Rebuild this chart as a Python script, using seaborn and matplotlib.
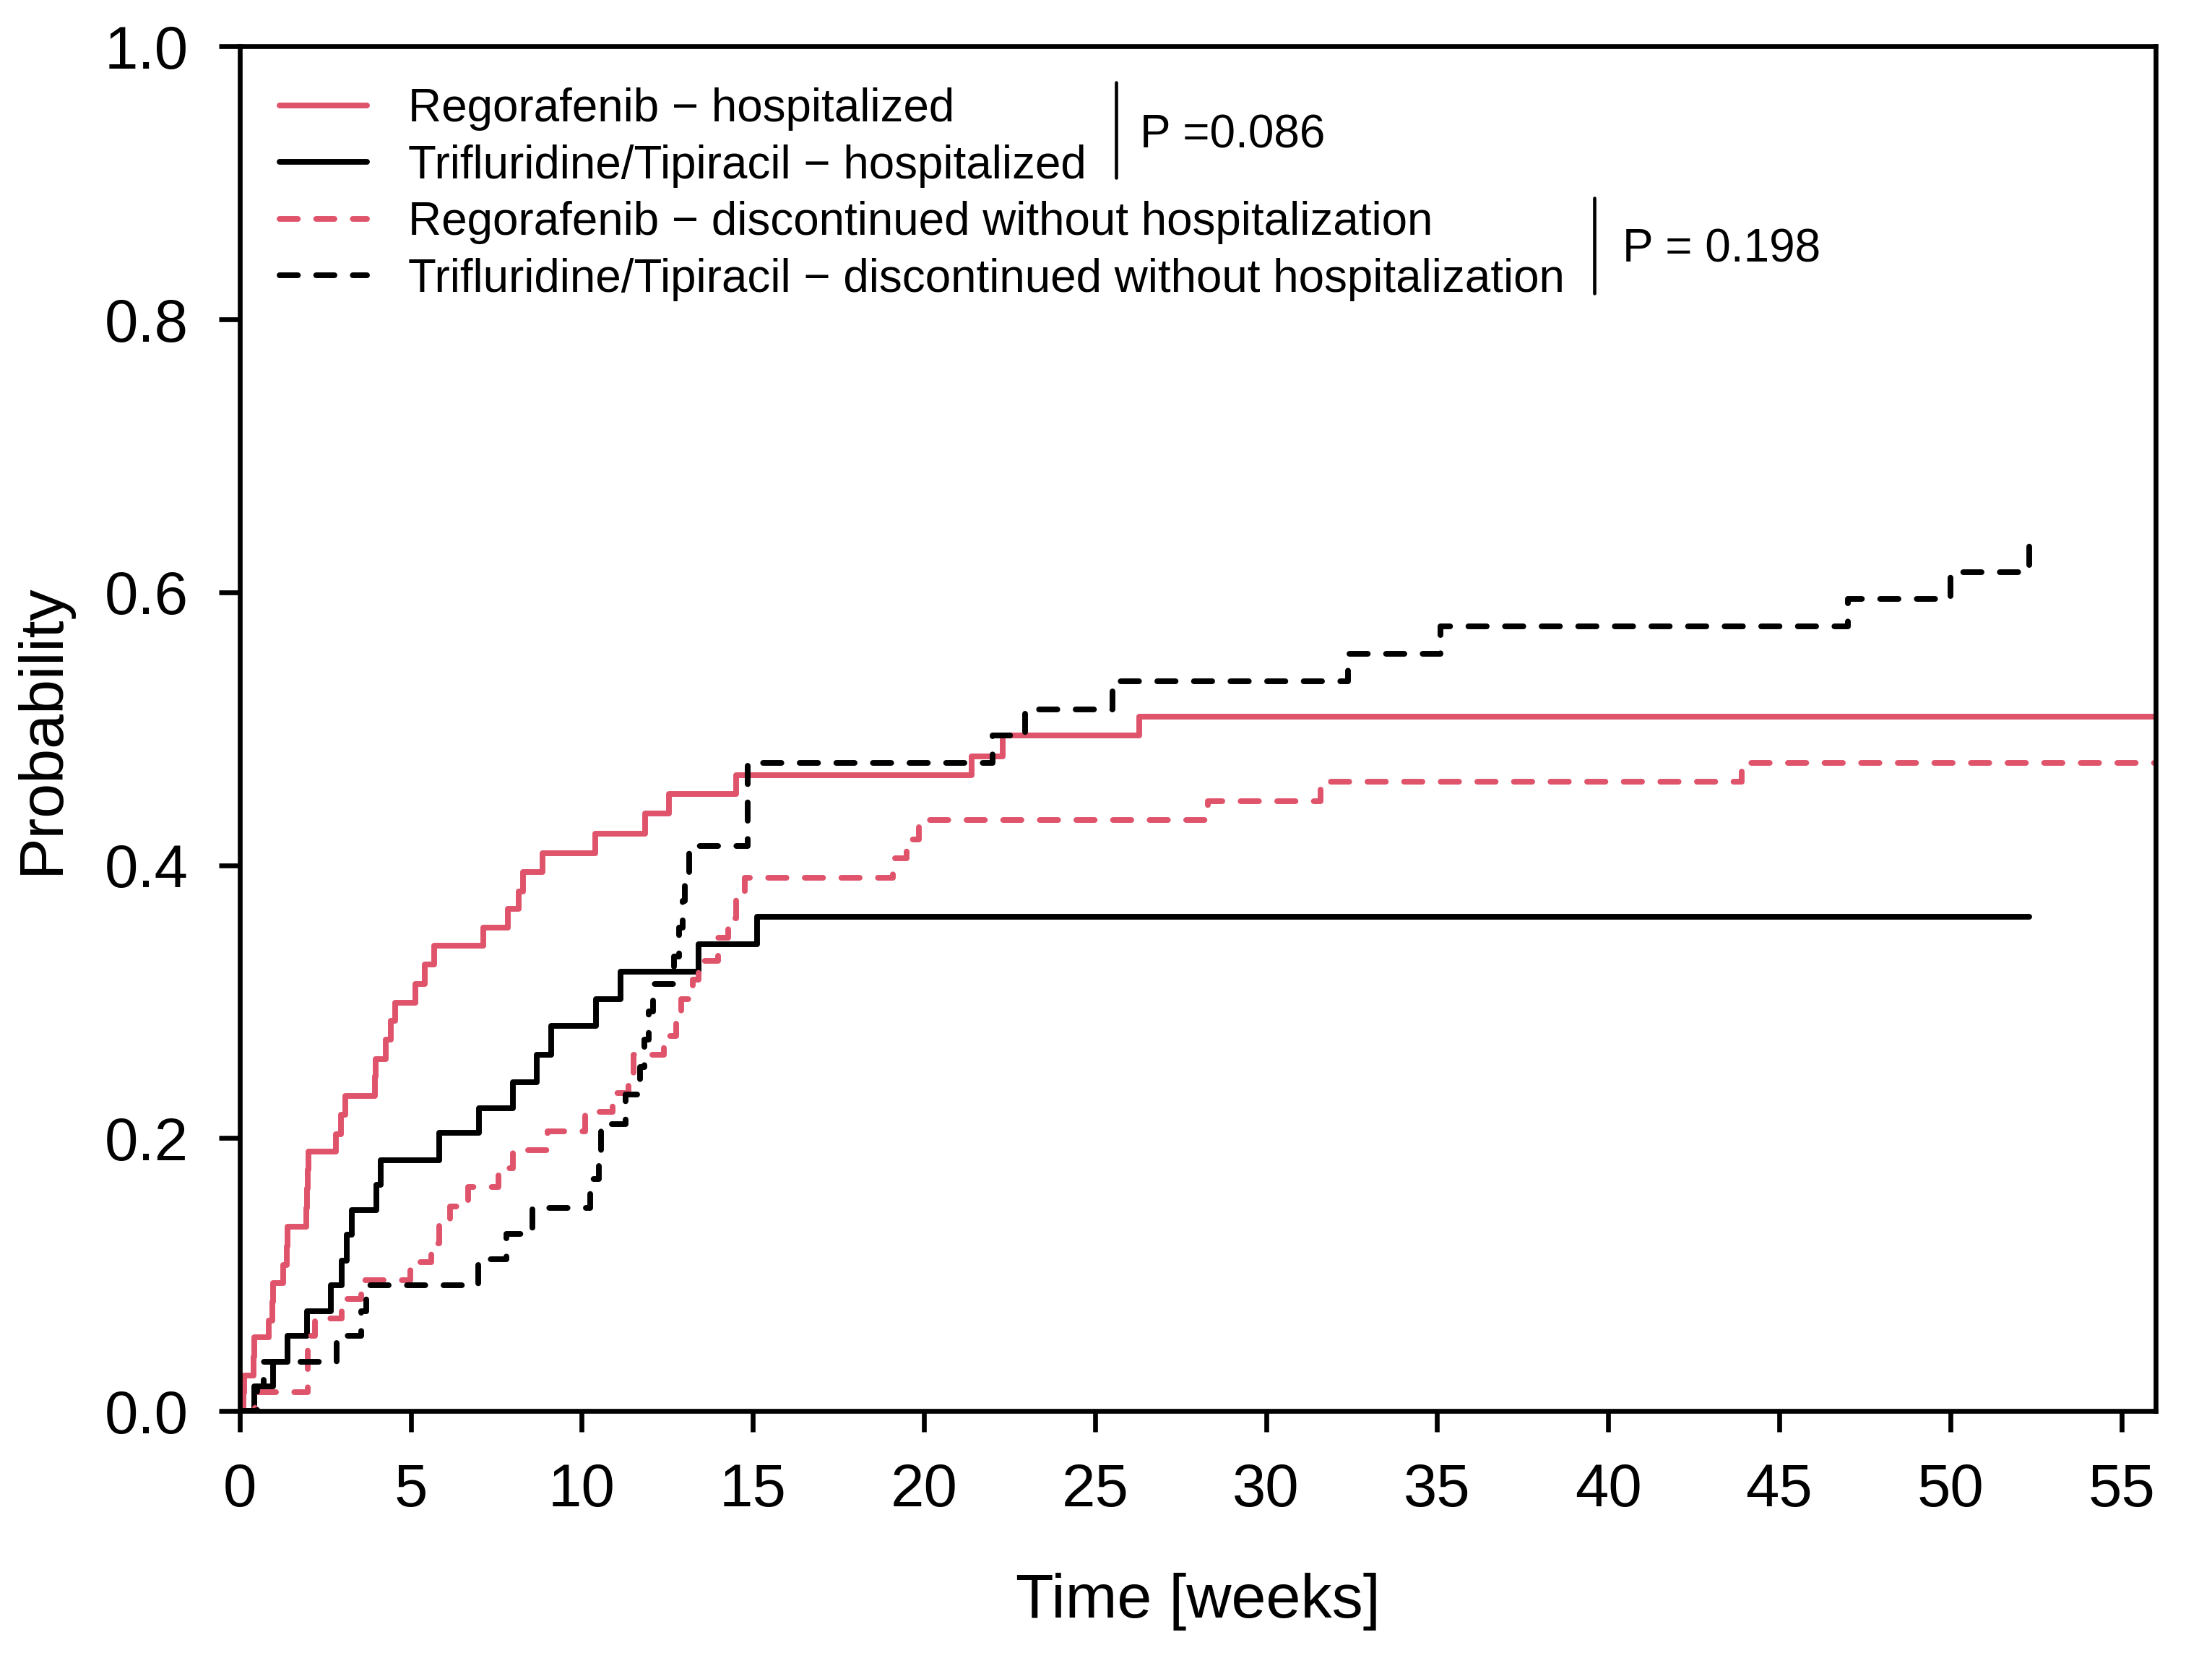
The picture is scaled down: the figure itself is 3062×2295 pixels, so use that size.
import numpy as np
import pandas as pd
import seaborn as sns
import matplotlib
matplotlib.use("Agg")
import matplotlib.pyplot as plt

RED = "#DF536B"

# cumulative incidence, time in weeks
rego_hosp_t = [0, 0.10, 0.13, 0.40, 0.42, 0.84, 0.96, 0.98, 1.26, 1.38, 1.40, 1.94, 1.96,
               1.98, 2.00, 2.81, 2.95, 3.09, 3.95, 3.97, 4.26, 4.41, 4.54, 5.13, 5.41, 5.69,
               7.12, 7.84, 8.15, 8.27, 8.84, 10.40, 11.85, 12.55, 14.50, 21.40, 22.30, 26.30, 56.00]
rego_hosp_p = [0, 0.013, 0.026, 0.040, 0.054, 0.066, 0.080, 0.094, 0.107, 0.121, 0.135, 0.149, 0.163,
               0.177, 0.190, 0.203, 0.217, 0.231, 0.245, 0.258, 0.272, 0.286, 0.299, 0.313, 0.327, 0.341,
               0.354, 0.368, 0.381, 0.395, 0.409, 0.423, 0.438, 0.452, 0.466, 0.480, 0.495, 0.509, 0.509]

tas_hosp_t = [0, 0.42, 0.98, 1.40, 1.96, 2.67, 2.98, 3.13, 3.27, 4.00, 4.11, 5.84, 7.00, 7.98,
              8.69, 9.11, 10.41, 11.12, 13.41, 15.13, 52.30]
tas_hosp_p = [0, 0.018, 0.036, 0.055, 0.073, 0.092, 0.110, 0.129, 0.147, 0.166, 0.184, 0.204, 0.222, 0.241,
              0.261, 0.282, 0.302, 0.322, 0.342, 0.362, 0.362]

rego_disc_t = [0, 0.45, 1.98, 1.98, 1.98, 2.20, 2.98, 3.55, 4.99, 5.59, 5.84, 6.15, 6.68, 7.56, 7.98,
               9.00, 10.10, 10.90, 11.37, 11.50, 12.40, 12.75, 12.90, 13.25, 13.40, 13.98, 14.27, 14.50,
               14.76, 19.10, 19.50, 19.85, 28.30, 31.60, 43.90, 56.00]
rego_disc_p = [0, 0.014, 0.027, 0.041, 0.055, 0.068, 0.082, 0.096, 0.109, 0.123, 0.137, 0.150, 0.164, 0.178, 0.191,
               0.205, 0.219, 0.233, 0.247, 0.261, 0.275, 0.288, 0.302, 0.316, 0.330, 0.347, 0.361, 0.377,
               0.391, 0.405, 0.419, 0.433, 0.447, 0.461, 0.475, 0.475]

tas_disc_t = [0, 0.50, 0.70, 2.84, 3.55, 3.69, 6.96, 7.80, 8.55, 10.24, 10.50, 10.55, 11.28, 11.70, 11.83,
              11.95, 12.09, 12.70, 12.85, 12.95, 13.00, 13.14, 14.85, 14.85, 14.85, 22.00, 22.96, 25.50,
              32.40, 35.10, 47.00, 50.00, 52.30]
tas_disc_p = [0, 0.018, 0.036, 0.055, 0.073, 0.092, 0.111, 0.130, 0.149, 0.170, 0.190, 0.210, 0.232, 0.252, 0.272,
              0.293, 0.313, 0.333, 0.354, 0.374, 0.394, 0.414, 0.434, 0.455, 0.475, 0.495, 0.514, 0.535,
              0.555, 0.575, 0.595, 0.615, 0.634]

labels = [
    "Regorafenib \u2212 hospitalized",
    "Trifluridine/Tipiracil \u2212 hospitalized",
    "Regorafenib \u2212 discontinued without hospitalization",
    "Trifluridine/Tipiracil \u2212 discontinued without hospitalization",
]
x_ticks = list(range(0, 56, 5))
y_ticks = [0.0, 0.2, 0.4, 0.6, 0.8, 1.0]

sns.set_theme(style="ticks")
plt.rcParams["font.family"] = ["Liberation Sans", "DejaVu Sans"]
plt.rcParams["text.color"] = "black"
plt.rcParams["axes.labelcolor"] = "black"

fig = plt.figure(figsize=(3062 / 300, 2295 / 300), dpi=300)
ax = fig.add_axes([0.1084, 0.149, 0.8661, 0.8229])

dash = (0, (3.2, 3.2))
series = [
    (rego_hosp_t, rego_hosp_p, RED, "-"),
    (tas_hosp_t, tas_hosp_p, "black", "-"),
    (rego_disc_t, rego_disc_p, RED, dash),
    (tas_disc_t, tas_disc_p, "black", dash),
]
handles = []
for (t, p, col, ls), lab in zip(series, labels):
    df = pd.DataFrame({"time": t, "prob": p})
    sns.lineplot(data=df, x="time", y="prob", ax=ax, estimator=None, sort=False,
                 drawstyle="steps-post", color=col, linestyle=ls, linewidth=1.9,
                 dash_capstyle="round")
    handles.append(ax.lines[-1])

ax.set_xlim(0, 56)
ax.set_ylim(0, 1)
ax.set_xticks(x_ticks)
ax.set_xticklabels([str(v) for v in x_ticks])
ax.set_yticks(y_ticks)
ax.set_yticklabels([f"{v:.1f}" for v in y_ticks])
ax.tick_params(direction="out", length=7, width=1.6, labelsize=20, pad=10, colors="black")
for sp in ax.spines.values():
    sp.set_visible(True)
    sp.set_linewidth(1.6)
    sp.set_color("black")

ax.set_xlabel("Time [weeks]", fontsize=20.7, va="center")
ax.set_ylabel("Probability", fontsize=20.7, va="center")
ax.xaxis.set_label_coords(0.5, -0.1396)
ax.yaxis.set_label_coords(-0.103, 0.5)

ax.legend(handles, labels, loc="upper left", bbox_to_anchor=(0.0206, 0.970),
          frameon=False, fontsize=15.3, handlelength=1.9, handletextpad=0.9,
          labelspacing=0.29, borderaxespad=0, borderpad=0)

ax.plot([0.4573, 0.4573], [0.904, 0.974], transform=ax.transAxes, color="black", lw=1.1)
ax.text(0.47, 0.935, "P =0.086", transform=ax.transAxes, va="center", fontsize=15.3)
ax.plot([0.707, 0.707], [0.819, 0.889], transform=ax.transAxes, color="black", lw=1.1)
ax.text(0.7217, 0.851, "P = 0.198", transform=ax.transAxes, va="center", fontsize=15.3)

plt.savefig("out.png", dpi=300)
plt.close()
